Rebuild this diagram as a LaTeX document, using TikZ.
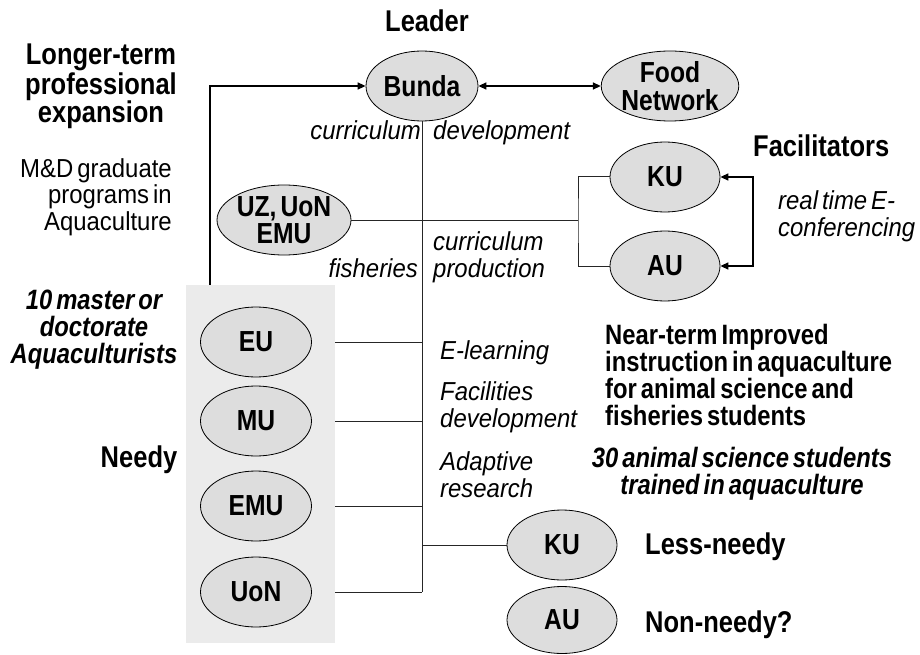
\documentclass[tikz,border=0pt]{standalone}
\usepackage{fontspec}
\setmainfont{Liberation Sans}[FakeStretch=0.85,WordSpace=0.6]
\newfontfamily\lightfam{Liberation Sans}[FakeStretch=0.92,WordSpace=0.6]
\usetikzlibrary{shapes.geometric,arrows.meta}
\definecolor{ellfill}{HTML}{DDDDDD}
\definecolor{boxfill}{HTML}{EBEBEB}
\tikzset{
  uni/.style={ellipse, draw=black, line width=0.8pt, fill=ellfill, inner sep=0pt,
    minimum width=110pt, minimum height=70pt, align=center,
    font=\fontsize{29}{27.5}\selectfont\bfseries},
  head/.style={inner sep=0pt, font=\fontsize{30}{27}\selectfont\bfseries},
  headsm/.style={inner sep=0pt, font=\fontsize{28}{26.7}\selectfont\bfseries},
  bihead/.style={inner sep=0pt, font=\fontsize{28}{27}\selectfont\bfseries\itshape},
  ital/.style={inner sep=0pt, font=\lightfam\itshape\fontsize{26}{27}\selectfont},
  plain/.style={inner sep=0pt, font=\lightfam\fontsize{26}{26.5}\selectfont},
  conn/.style={line width=1pt, draw=black!85},
  arr/.style={line width=1.5pt, -{Triangle[length=8pt,width=7pt]}},
  darr/.style={line width=1.5pt, {Triangle[length=8pt,width=7pt]}-{Triangle[length=8pt,width=7pt]}}
}
\begin{document}
\begin{tikzpicture}[x=1pt,y=-1pt]
\useasboundingbox (0,0) rectangle (920,655);
\fill[white] (0,0) rectangle (920,655);

% grey box of needy universities
\node[fill=boxfill, minimum width=149pt, minimum height=358pt, inner sep=0pt] (box) at (260.5,464) {};

% ellipses
\node[uni, minimum width=112pt] (bunda) at (422,86) {Bunda};
\node[uni, minimum width=134pt] (food) at (670,86) {Food\\Network};
\node[uni, minimum width=134pt] (uz) at (284,220) {UZ, UoN\\EMU};
\node[uni] (ku1) at (665,177) {KU};
\node[uni] (au1) at (665,266) {AU};
\node[uni, minimum width=111pt] (eu) at (256,342) {EU};
\node[uni, minimum width=111pt] (mu) at (256,421) {MU};
\node[uni, minimum width=111pt] (emu) at (256,506) {EMU};
\node[uni, minimum width=111pt] (uon) at (256,592) {UoN};
\node[uni] (ku2) at (562,545) {KU};
\node[uni, minimum height=67pt] (au2) at (562,620) {AU};

% helper coordinates
\coordinate (j) at (578,220);
\coordinate (r) at (753,220);
\coordinate (up) at (210,0);

% connectors
\draw[arr] (box.north -| up) |- (bunda.west);
\draw[darr] (bunda.east) -- (food.west);
\draw[conn] (bunda.south) -- (bunda.south |- uon);
\draw[conn] (uz.east) -- (j);
\draw[conn] (ku1.west) -| (j) |- (au1.west);
\draw[darr] (ku1.east) -| (r) |- (au1.east);
\draw[conn] (box.east |- eu) -- (bunda.south |- eu);
\draw[conn] (box.east |- mu) -- (bunda.south |- mu);
\draw[conn] (box.east |- emu) -- (bunda.south |- emu);
\draw[conn] (box.east |- uon) -- (bunda.south |- uon);
\draw[conn] (bunda.south |- ku2) -- (ku2.west);

% texts (base anchor of a multi-line node = last line's baseline)
\node[head, anchor=base] (leader) at (427,32) {Leader};
\node[head, anchor=base, align=center] (longer) at (101,123) {Longer-term\\professional\\expansion};
\node[plain, anchor=base east, align=right] (md) at (172,230) {M\&D graduate\\programs in\\Aquaculture};
\node[bihead, anchor=base, align=center] (ten) at (94,363) {10 master or\\doctorate\\Aquaculturists};
\node[head, anchor=base] (needy) at (139,467) {Needy};
\node[ital, anchor=base east] (curr1) at (421,140) {curriculum};
\node[ital, anchor=base west] (dev1) at (433,140) {development};
\node[ital, anchor=base east] (fish) at (418,277) {fisheries};
\node[ital, anchor=base west, align=left] (curr2) at (433,277) {curriculum\\production};
\node[head, anchor=base west] (facil) at (753,157) {Facilitators};
\node[ital, anchor=base west, align=left] (rt) at (778,236) {real time E-\\conferencing};
\node[ital, anchor=base west] (el) at (440,359) {E-learning};
\node[ital, anchor=base west, align=left] (facdev) at (440,427) {Facilities\\development};
\node[ital, anchor=base west, align=left] (adapt) at (440,497) {Adaptive\\research};
\node[headsm, anchor=base west, align=left] (near) at (605,425) {Near-term Improved\\instruction in aquaculture\\for animal science and\\fisheries students};
\node[bihead, anchor=base, align=center] (thirty) at (742,494) {30 animal science students\\trained in aquaculture};
\node[head, anchor=base west] (less) at (645,554) {Less-needy};
\node[head, anchor=base west] (non) at (645,632) {Non-needy?};
\end{tikzpicture}
\end{document}
